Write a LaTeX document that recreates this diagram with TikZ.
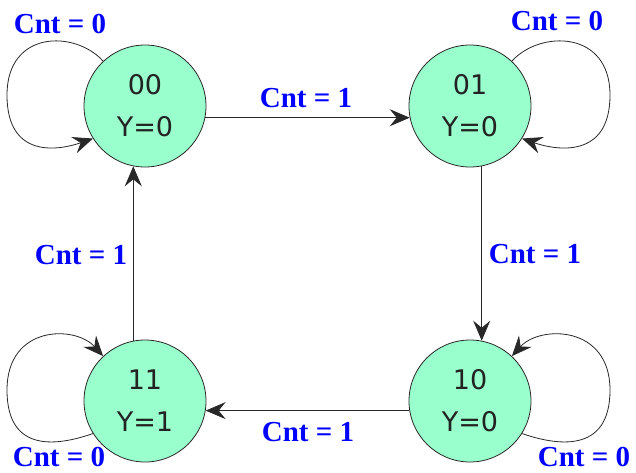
\documentclass[tikz,border=0pt]{standalone}
\usepackage{fontspec}
\setmainfont{Liberation Serif}
\newfontfamily\statefont{DejaVu Sans}
\usetikzlibrary{arrows.meta}
\definecolor{mint}{RGB}{153,255,204}
\definecolor{lbl}{RGB}{0,0,255}
\definecolor{ink}{RGB}{40,40,40}
\definecolor{txt}{RGB}{34,34,34}
\begin{document}
\begin{tikzpicture}[x=1pt,y=-1pt,
  state/.style={circle, draw=ink, line width=0.8pt, fill=mint, minimum size=122pt,
    inner sep=0pt, align=center, font=\statefont\fontsize{27}{42}\selectfont, text=txt},
  lab/.style={font=\bfseries\fontsize{29}{30}\selectfont, text=lbl, inner sep=0pt},
  arr/.style={draw=ink, line width=0.8pt, -{Stealth[length=20pt,width=17pt,inset=7pt]}}]
\useasboundingbox (0,0) rectangle (636,472);
\node[state] (s00) at (145,106) {00\\Y=0};
\node[state] (s01) at (470,106) {01\\Y=0};
\node[state] (s11) at (145,401) {11\\Y=1};
\node[state] (s10) at (470,401) {10\\Y=0};
% transitions
\draw[arr] (s00.-11) -- (s01.191);
\draw[arr] (s01.-79) -- (s10.79);
\draw[arr] (s10.189) -- (s11.-9);
\draw[arr] (s11.101) -- (s00.-101);
% self loops
\draw[arr] (s00.133) .. controls (75,30) and (7,30) .. (7,95)
  .. controls (7,160) and (60,150) .. (s00.212.5);
\draw[arr] (s01.47) .. controls (540,30) and (610,30) .. (610,95)
  .. controls (610,160) and (555,150) .. (s01.-32.5);
\draw[arr] (s11.212.5) .. controls (60,445) and (7,455) .. (7,390)
  .. controls (7,325) and (75,325) .. (s11.133);
\draw[arr] (s10.-32.5) .. controls (555,445) and (610,455) .. (610,390)
  .. controls (610,325) and (540,325) .. (s10.47);
% labels
\node[lab] (l00) at (60,24) {Cnt = 0};
\node[lab] (l01) at (557,21) {Cnt = 0};
\node[lab] (l11) at (59,457) {Cnt = 0};
\node[lab] (l10) at (584,457) {Cnt = 0};
\node[lab] (lt) at (306,98) {Cnt = 1};
\node[lab] (lr) at (535,254) {Cnt = 1};
\node[lab] (ll) at (81,255) {Cnt = 1};
\node[lab] (lb) at (308,432) {Cnt = 1};
\end{tikzpicture}
\end{document}
